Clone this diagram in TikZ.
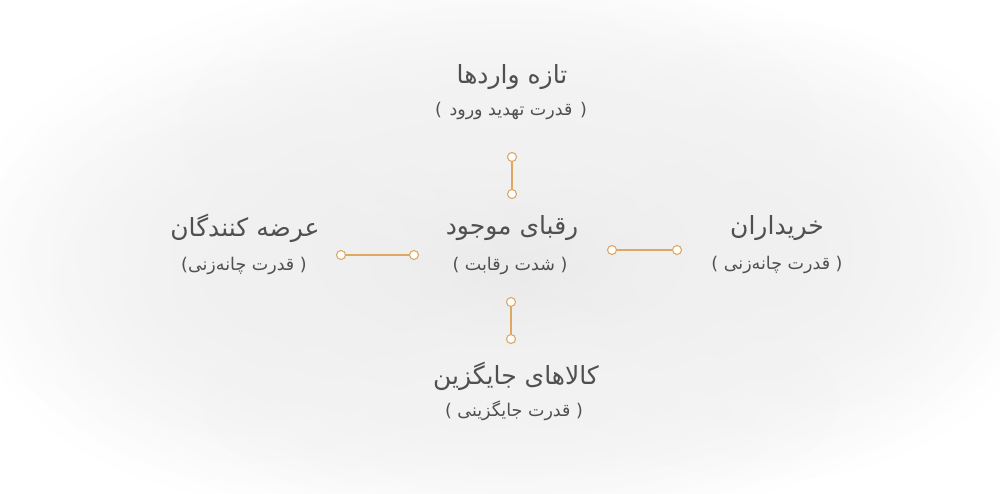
\documentclass[tikz,border=0pt]{standalone}
\usepackage{fontspec}
\newfontfamily\arabicfont[Script=Arabic]{DejaVu Sans}
\TeXXeTstate=1
\usetikzlibrary{fadings}
\tikzfading[name=softblob, inner color=transparent!0, outer color=transparent!100]
\definecolor{txt}{HTML}{505050}
\definecolor{gold}{HTML}{DCA862}
\begin{document}
\begin{tikzpicture}[x=1pt,y=-1pt,
  title/.style={font=\arabicfont\fontsize{25}{30}\selectfont, text=txt, inner sep=0pt},
  sub/.style={font=\arabicfont\fontsize{17.5}{21}\selectfont, text=txt, inner sep=0pt},
  dot/.style={circle, draw=gold, fill=white, line width=1.1pt, minimum size=9pt, inner sep=0pt},
  link/.style={draw=gold, line width=1.6pt},
  blob/.style={fill=black!9, path fading=softblob}]
\useasboundingbox (0,0) rectangle (1000,494);
\fill[white] (0,0) rectangle (1000,494);
% cloud background
\fill[blob] (500,250) ellipse (540 and 280);
\fill[blob, fill=black!6] (270,280) ellipse (300 and 220);
\fill[blob, fill=black!6] (770,250) ellipse (290 and 230);
\fill[blob, fill=black!5] (500,130) ellipse (320 and 160);
\fill[blob, fill=black!5] (520,400) ellipse (320 and 120);
% titles
\node[title] (topT) at (512,77) {\beginR تازه واردها\endR};
\node[sub] (topS) at (511,111) {\beginR (\hspace{2pt} قدرت تهدید ورود \hspace{2pt})\endR};
\node[title] (cenT) at (512,228) {\beginR رقبای موجود\endR};
\node[sub] (cenS) at (510,266) {\beginR ( شدت رقابت )\endR};
\node[title] (lefT) at (245,228) {\beginR عرضه کنندگان\endR};
\node[sub] (lefS) at (244,266) {\beginR ( قدرت چانه‌زنی)\endR};
\node[title] (rigT) at (777,228) {\beginR خریداران\endR};
\node[sub] (rigS) at (777,265) {\beginR ( قدرت چانه‌زنی )\endR};
\node[title] (botT) at (516,376) {\beginR کالاهای جایگزین\endR};
\node[sub] (botS) at (514,411) {\beginR ( قدرت جایگزینی )\endR};
% connectors
\node[dot] (t1) at (512,157) {};
\node[dot] (t2) at (512,194) {};
\draw[link] (t1) -- (t2);
\node[dot] (b1) at (511,302) {};
\node[dot] (b2) at (511,339) {};
\draw[link] (b1) -- (b2);
\node[dot] (l1) at (341,255) {};
\node[dot] (l2) at (414,255) {};
\draw[link] (l1) -- (l2);
\node[dot] (r1) at (612,250) {};
\node[dot] (r2) at (677,250) {};
\draw[link] (r1) -- (r2);
\end{tikzpicture}
\end{document}
